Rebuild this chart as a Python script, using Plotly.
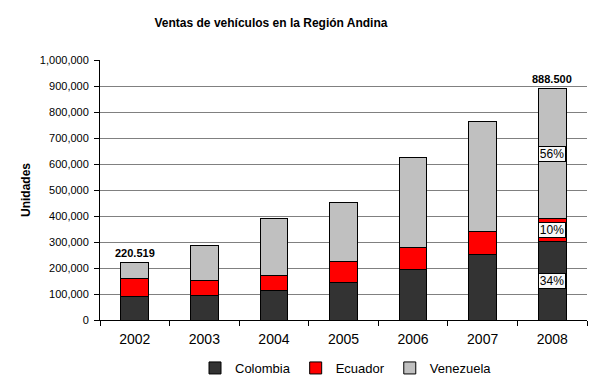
import plotly.graph_objects as go

years = ["2002", "2003", "2004", "2005", "2006", "2007", "2008"]
colombia = [91000, 95000, 114000, 145000, 195000, 253000, 302000]
ecuador = [68000, 58000, 58000, 80000, 85000, 88000, 89000]
venezuela = [61519, 135000, 219000, 227000, 346000, 423000, 497500]
total_labels = {"2002": "220.519", "2008": "888.500"}
pct_labels = ["34%", "10%", "56%"]

fig = go.Figure()
for name, vals, col in [("Colombia", colombia, "#333333"),
                        ("Ecuador", ecuador, "#FF0000"),
                        ("Venezuela", venezuela, "#C0C0C0")]:
    fig.add_trace(go.Bar(x=years, y=vals, name=name, marker_color=col,
                         marker_line=dict(color="black", width=1), width=0.4))

totals = [c + e + v for c, e, v in zip(colombia, ecuador, venezuela)]
for yr, txt in total_labels.items():
    i = years.index(yr)
    fig.add_annotation(x=i, y=totals[i], text=f"<b>{txt}</b>", showarrow=False,
                       yshift=10, font=dict(size=11, color="black", family="Arial"))

# percentage labels in 2008 bar
i = len(years) - 1
mids = [colombia[i] / 2, colombia[i] + ecuador[i] / 2,
        colombia[i] + ecuador[i] + venezuela[i] / 2]
for m, t in zip(mids, pct_labels):
    fig.add_annotation(x=i, y=m, text=t, showarrow=False,
                       bgcolor="#F8F8F8", bordercolor="black", borderwidth=1,
                       borderpad=0, width=26, height=14,
                       font=dict(size=12, color="black", family="Arial"))

# page body has an 8px margin, so the figure is 592x376 drawn at (8, 8)
W, H = 592, 376
fig.update_layout(
    barmode="stack",
    width=W, height=H,
    margin=dict(l=92, r=13, t=52, b=64, autoexpand=False),
    paper_bgcolor="white", plot_bgcolor="white",
    font=dict(family="Arial", size=12, color="black"),
    title=dict(text="<b>Ventas de vehículos en la Región Andina</b>",
               x=263 / W, xanchor="center", y=1 - 15 / H, yanchor="middle",
               font=dict(size=12, family="Arial", color="black")),
    showlegend=True,
    legend=dict(orientation="h", x=(346 - 100) / 487, xanchor="center",
                y=(320 - 368) / 260, yanchor="middle",
                font=dict(size=13, family="Arial"),
                itemwidth=30, traceorder="normal"),
)
fig.update_xaxes(type="category", range=[-0.5, len(years) - 0.5], automargin=False,
                 showline=True, linecolor="black", linewidth=1,
                 ticks="outside", ticklen=5, tickcolor="black", tickson="boundaries",
                 ticklabelstandoff=6,
                 tickfont=dict(size=14, family="Arial"), showgrid=False)
fig.update_yaxes(range=[0, 1000000], dtick=100000, tickformat=",d", automargin=False,
                 showline=True, linecolor="black", linewidth=1,
                 ticks="outside", ticklen=5, tickcolor="black",
                 ticklabelstandoff=3,
                 showgrid=True, gridcolor="#808080", gridwidth=1,
                 zeroline=False,
                 title=dict(text="<b>Unidades</b>", font=dict(size=12, family="Arial"),
                            standoff=6),
                 tickfont=dict(size=11, family="Arial"))

fig.write_html("out.html")
